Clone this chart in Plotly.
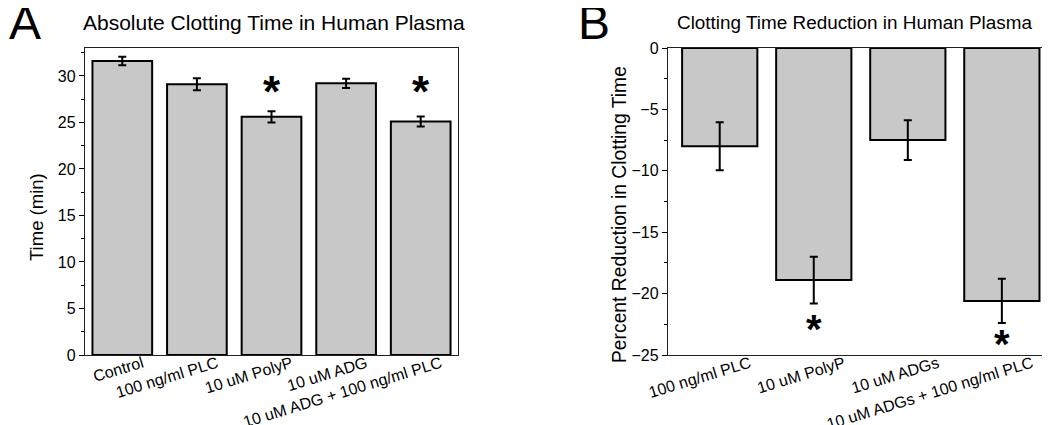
import plotly.graph_objects as go

# ---- data ----
cats_a = ["Control", "100 ng/ml PLC", "10 uM PolyP", "10 uM ADG", "10 uM ADG + 100 ng/ml PLC"]
time_a = [31.6, 29.1, 25.6, 29.2, 25.1]
err_a = [0.45, 0.65, 0.6, 0.5, 0.55]
star_a_cats = ["10 uM PolyP", "10 uM ADG + 100 ng/ml PLC"]
star_a_y = [28.7, 28.7]

cats_b = ["100 ng/ml PLC", "10 uM PolyP", "10 uM ADGs", "10 uM ADGs + 100 ng/ml PLC"]
red_b = [-8.0, -18.9, -7.5, -20.6]
err_b = [1.95, 1.9, 1.62, 1.8]
star_b_cats = ["10 uM PolyP", "10 uM ADGs + 100 ng/ml PLC"]
star_b_y = [-22.55, -23.8]

FONT = "Liberation Sans, Arial, sans-serif"
OFF = 8  # page body margin
W, H = 1050 - OFF, 425 - OFF
GRAY = "#c8c8c8"

def px(x):
    return (x - OFF) / W

def py(y):
    return 1 - (y - OFF) / H

fig = go.Figure()

fig.add_trace(go.Bar(
    x=cats_a, y=time_a, width=0.8,
    marker=dict(color=GRAY, line=dict(color="black", width=2)),
    error_y=dict(type="data", array=err_a, color="black", thickness=2, width=4),
    xaxis="x", yaxis="y", showlegend=False,
))
fig.add_trace(go.Bar(
    x=cats_b, y=red_b, width=0.8,
    marker=dict(color=GRAY, line=dict(color="black", width=2)),
    error_y=dict(type="data", array=err_b, color="black", thickness=2, width=4),
    xaxis="x2", yaxis="y2", showlegend=False,
))

yd = [py(355), py(48)]
axis_common = dict(showline=True, linecolor="#222222", linewidth=1.4, mirror=True,
                   showgrid=False, zeroline=False, automargin=False,
                   tickfont=dict(family=FONT, size=16, color="black"))

fig.update_layout(
    template="none",
    width=W, height=H,
    margin=dict(l=0, r=0, t=0, b=0, autoexpand=False),
    paper_bgcolor="white", plot_bgcolor="white",
    font=dict(family=FONT, color="black"),
    bargap=0.2,
    xaxis=dict(domain=[px(85), px(458)], range=[-0.5, 4.5], ticks="",
               tickangle=-17, ticklabelshift=20, ticklabelstandoff=-8, **axis_common),
    yaxis=dict(domain=yd, range=[0, 33], dtick=5, ticks="outside", ticklen=5, tickwidth=1.2,
               tickcolor="black",
               minor=dict(ticks="outside", ticklen=3, dtick=2.5, tickwidth=1.2, tickcolor="black"),
               **axis_common),
    xaxis2=dict(domain=[px(668), px(1047)], range=[-0.55, 3.48], ticks="",
                tickangle=-17, ticklabelshift=30, ticklabelstandoff=-8, anchor="y2", **axis_common),
    yaxis2=dict(domain=yd, range=[-25, 0], dtick=5, ticks="outside", ticklen=5, tickwidth=1.2,
                tickcolor="black",
                minor=dict(ticks="outside", ticklen=3, dtick=2.5, tickwidth=1.2, tickcolor="black"),
                anchor="x2", **axis_common),
)

ann = []
for c, y in zip(star_a_cats, star_a_y):
    ann.append(dict(x=c, y=y, xref="x", yref="y", text="<b>*</b>", showarrow=False,
                    font=dict(family=FONT, size=44, color="black"), yshift=-4))
for c, y in zip(star_b_cats, star_b_y):
    ann.append(dict(x=c, y=y, xref="x2", yref="y2", text="<b>*</b>", showarrow=False,
                    font=dict(family=FONT, size=40, color="black"), yshift=-4))

texts = [
    ("A", 25, 22, 48, 0),
    ("B", 594, 22, 48, 0),
    ("Absolute Clotting Time in Human Plasma", 274, 22, 21, 0),
    ("Clotting Time Reduction in Human Plasma", 854, 22, 18.9, 0),
    ("Time (min)", 36, 217, 18.5, -90),
    ("Percent Reduction in Clotting Time", 619, 215, 19.3, -90),
]
for t, x, y, s, a in texts:
    ann.append(dict(x=px(x), y=py(y), xref="paper", yref="paper", text=t, showarrow=False,
                    xanchor="center", yanchor="middle", textangle=a,
                    font=dict(family=FONT, size=s, color="black")))

fig.update_layout(annotations=ann)
fig.write_html("out.html")
